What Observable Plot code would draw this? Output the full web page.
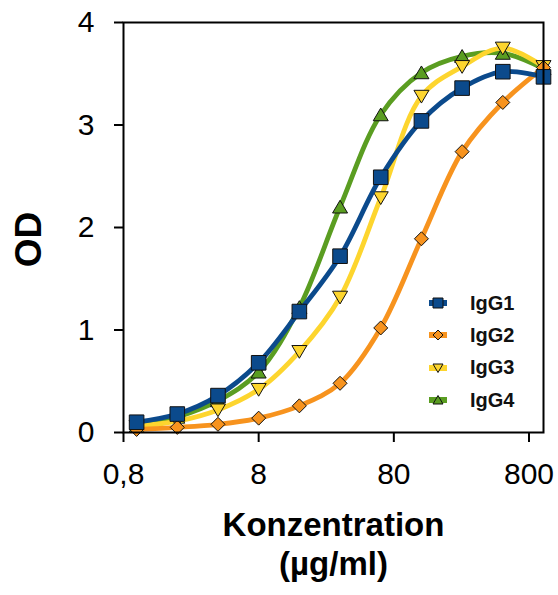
<!DOCTYPE html>
<html>
<head>
<meta charset="utf-8">
<script src="https://cdn.jsdelivr.net/npm/d3@7"></script>
<script src="https://cdn.jsdelivr.net/npm/@observablehq/plot@0.6"></script>
<style>
  html, body { margin: 0; padding: 0; background: #fff; }
  #wrap { position: relative; width: 558px; height: 595px; font-family: "Liberation Sans", Arial, sans-serif; }
  #legend { position: absolute; left: 428px; top: 287px; }
  .row { display: flex; align-items: center; height: 32.3px; }
  .row span { font-weight: bold; font-size: 20px; margin-left: 22px; color: #111; }
</style>
</head>
<body>
<div id="wrap"><div id="legend"></div></div>
<script>
// Concentration (µg/ml), twofold dilution series
const conc = [1, 2, 4, 8, 16, 32, 64, 128, 256, 512, 1024];
// OD values
const igg1 = [0.10, 0.18, 0.36, 0.68, 1.18, 1.72, 2.49, 3.04, 3.36, 3.52, 3.47];
const igg2 = [0.03, 0.05, 0.08, 0.14, 0.26, 0.48, 1.02, 1.89, 2.74, 3.22, 3.56];
const igg3 = [0.06, 0.11, 0.22, 0.42, 0.79, 1.32, 2.29, 3.28, 3.57, 3.75, 3.57];
const igg4 = [0.06, 0.15, 0.31, 0.59, 1.22, 2.20, 3.10, 3.51, 3.67, 3.70, 3.55];

const seriesNames = ["IgG1", "IgG2", "IgG3", "IgG4"];
const seriesValues = [igg1, igg2, igg3, igg4];
const seriesColors = ["#0b4a8c", "#f7931e", "#fdd52e", "#5a9d21"];
const seriesSymbols = ["square", "diamond", "down", "up"];

const xTicks = [0.8, 8, 80, 800];
const xTickLabels = ["0,8", "8", "80", "800"];
const yTicks = [0, 1, 2, 3, 4];

// custom marker shapes (size = pi * r^2)
function half(size) { return Math.sqrt(size / Math.PI); }
const shapes = {
  square: { draw(c, s) { const h = half(s); c.rect(-h, -h, 2 * h, 2 * h); } },
  diamond: { draw(c, s) { const h = half(s); c.moveTo(0, -h); c.lineTo(h, 0); c.lineTo(0, h); c.lineTo(-h, 0); c.closePath(); } },
  down: { draw(c, s) { const h = half(s); c.moveTo(-h, -h * 0.8); c.lineTo(h, -h * 0.8); c.lineTo(0, h * 0.9); c.closePath(); } },
  up: { draw(c, s) { const h = half(s); c.moveTo(-h, h * 0.8); c.lineTo(h, h * 0.8); c.lineTo(0, -h * 0.9); c.closePath(); } }
};
const markerR = { square: 7.3, diamond: 7, down: 7.5, up: 7.5 };

const rows = seriesNames.flatMap((name, k) =>
  conc.map((c, i) => ({ series: name, x: c, y: seriesValues[k][i] })));

const marks = [];
for (const k of [3, 2, 1, 0]) {
  const data = rows.filter(d => d.series === seriesNames[k]);
  marks.push(Plot.line(data, { x: "x", y: "y", stroke: seriesColors[k], strokeWidth: 4.8, curve: "catmull-rom" }));
  marks.push(Plot.dot(data, { x: "x", y: "y", symbol: shapes[seriesSymbols[k]], r: markerR[seriesSymbols[k]], fill: seriesColors[k], stroke: "#111", strokeWidth: 1 }));
}

const font = "'Liberation Sans', Arial, sans-serif";
const xLabelData = xTicks.map((t, i) => ({ x: t, label: xTickLabels[i] }));
marks.push(
  Plot.frame({ stroke: "#000", strokeWidth: 2 }),
  Plot.axisY({ ticks: yTicks, tickSize: 9, tickPadding: 20, fontSize: 30, label: null, tickFormat: d => String(d), stroke: "#000", strokeWidth: 2, fill: "#000" }),
  Plot.axisX({ ticks: xTicks, tickSize: 10, label: null, text: null, stroke: "#000", strokeWidth: 2 }),
  Plot.text(xLabelData, { x: "x", text: "label", frameAnchor: "bottom", lineAnchor: "top", dy: 30, fontSize: 30, fill: "#000" }),
  Plot.text(["OD"], { text: d => d, frameAnchor: "left", textAnchor: "middle", rotate: -90, dx: -94, dy: 12, fontSize: 37, fontWeight: "bold", fill: "#000" }),
  Plot.text(["Konzentration\n(µg/ml)"], { text: d => d, frameAnchor: "bottom", lineAnchor: "top", dy: 76, lineHeight: 1.18, fontSize: 33, fontWeight: "bold", fill: "#000" })
);

const chart = Plot.plot({
  width: 558,
  height: 595,
  marginTop: 22,
  marginBottom: 163,
  marginLeft: 123,
  marginRight: 15,
  style: { fontFamily: font, background: "#fff", overflow: "visible" },
  x: { type: "log", domain: [0.8, 1024] },
  y: { domain: [0, 4] },
  marks
});
document.getElementById("wrap").prepend(chart);
chart.style.position = "absolute";
chart.style.left = "0";
chart.style.top = "0";

// legend
const legend = document.getElementById("legend");
seriesNames.forEach((name, k) => {
  const row = document.createElement("div");
  row.className = "row";
  const svg = d3.create("svg").attr("width", 20).attr("height", 16);
  svg.append("line").attr("x1", 1).attr("x2", 19).attr("y1", 8).attr("y2", 8)
    .attr("stroke", seriesColors[k]).attr("stroke-width", 6);
  const p = d3.path();
  shapes[seriesSymbols[k]].draw(p, Math.PI * 5 * 5);
  svg.append("path").attr("d", p.toString()).attr("transform", "translate(10,8)")
    .attr("fill", seriesColors[k]).attr("stroke", "#111").attr("stroke-width", 1);
  row.appendChild(svg.node());
  const t = document.createElement("span");
  t.textContent = name;
  row.appendChild(t);
  legend.appendChild(row);
});
</script>
</body>
</html>
